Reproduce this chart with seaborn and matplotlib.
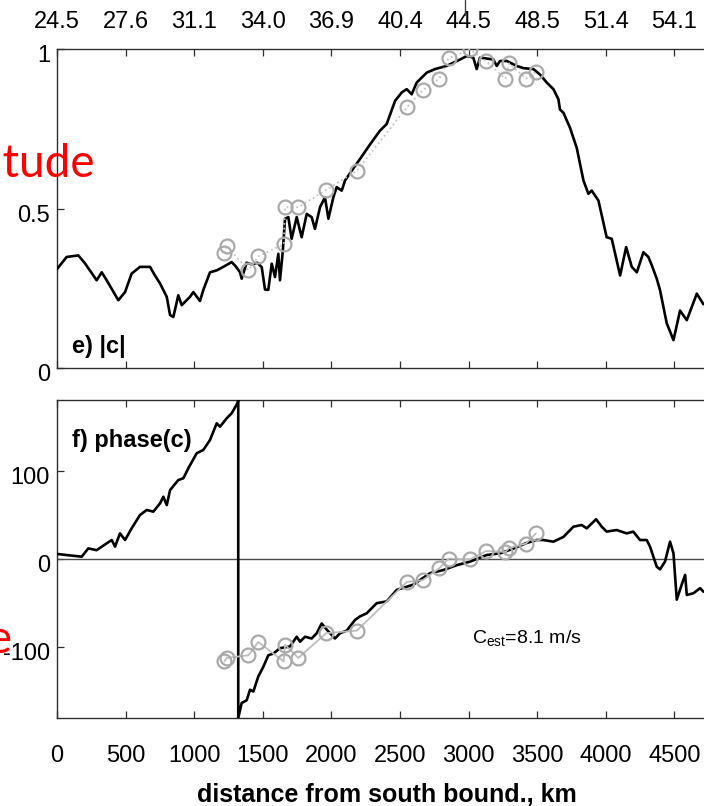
import matplotlib
matplotlib.use("Agg")
import matplotlib.pyplot as plt
import matplotlib.transforms as mtrans
from matplotlib.lines import Line2D
import seaborn as sns

# ---------------- data ----------------
# distance axis ticks / latitude labels on top
dist_ticks = [0, 500, 1000, 1500, 2000, 2500, 3000, 3500, 4000, 4500]
lat_labels = ["24.5", "27.6", "31.1", "34.0", "36.9", "40.4", "44.5", "48.5", "51.4", "54.1"]

# |c| black curve
amp_km = [0, 70, 155, 204, 289, 326, 362, 447, 496, 544, 605, 678, 714, 751, 800, 824, 848,
          884, 909, 969, 994, 1042, 1066, 1115, 1164, 1212, 1273, 1300, 1334, 1346, 1382, 1420,
          1460, 1492, 1516, 1540, 1565, 1589, 1613, 1625, 1645, 1662, 1686, 1710, 1747, 1783,
          1820, 1856, 1880, 1917, 1953, 1978, 2014, 2038, 2075, 2099, 2150, 2208, 2280, 2354,
          2403, 2464, 2513, 2549, 2585, 2622, 2695, 2755, 2840, 2937, 2986, 3034, 3059, 3083,
          3180, 3205, 3229, 3278, 3350, 3399, 3472, 3520, 3569, 3618, 3654, 3666, 3691, 3739,
          3788, 3837, 3873, 3897, 3946, 4006, 4043, 4104, 4148, 4189, 4226, 4274, 4310, 4335,
          4371, 4395, 4444, 4493, 4541, 4590, 4663, 4711, 4760]
amp_val = [0.31, 0.348, 0.353, 0.328, 0.275, 0.30, 0.275, 0.2125, 0.238, 0.296, 0.317, 0.317,
           0.29, 0.265, 0.223, 0.166, 0.16, 0.228, 0.197, 0.223, 0.238, 0.21, 0.244, 0.30, 0.306,
           0.317, 0.332, 0.32, 0.30, 0.28, 0.33, 0.325, 0.33, 0.316, 0.246, 0.245, 0.327, 0.285,
           0.358, 0.275, 0.363, 0.468, 0.473, 0.405, 0.473, 0.41, 0.483, 0.473, 0.436, 0.504,
           0.535, 0.468, 0.535, 0.567, 0.556, 0.5875, 0.62, 0.655, 0.70, 0.744, 0.765, 0.8375,
           0.864, 0.874, 0.858, 0.895, 0.926, 0.937, 0.947, 0.967, 0.978, 0.973, 0.937, 0.973,
           0.967, 0.947, 0.9625, 0.9625, 0.947, 0.94, 0.937, 0.92, 0.895, 0.874, 0.843, 0.81,
           0.80, 0.753, 0.69, 0.5875, 0.546, 0.556, 0.525, 0.41, 0.405, 0.29, 0.379, 0.317, 0.30,
           0.363, 0.348, 0.322, 0.28, 0.244, 0.14, 0.0875, 0.18, 0.15, 0.233, 0.20, 0.21]

# phase(c) black curve (wraps from +180 to -180 near 1321 km)
ph_km = [0, 180, 228, 289, 362, 399, 423, 459, 496, 544, 605, 654, 702, 751, 775, 800, 824,
         884, 921, 957, 1018, 1066, 1115, 1164, 1188, 1237, 1273, 1314, 1321, 1321, 1346, 1382,
         1407, 1431, 1467, 1504, 1540, 1577, 1625, 1698, 1747, 1771, 1808, 1856, 1893, 1929,
         1966, 2026, 2063, 2112, 2172, 2208, 2257, 2330, 2403, 2476, 2597, 2719, 2816, 2913,
         3010, 3131, 3229, 3330, 3420, 3496, 3545, 3618, 3691, 3764, 3824, 3861, 3929, 3970,
         4006, 4079, 4152, 4200, 4249, 4298, 4322, 4371, 4395, 4431, 4468, 4493, 4517, 4553,
         4578, 4590, 4638, 4687, 4711, 4760]
ph_val = [5.7, 2.6, 12, 10, 17.7, 21.5, 14, 29, 21.5, 34.7, 49.8, 55.5, 53.6, 63, 70.5, 61, 78,
          89.4, 91.4, 102.7, 119.7, 123.4, 134.7, 153.6, 149.8, 159.3, 165, 176, 180, -180, -163,
          -160, -148, -150, -133, -122, -109, -107, -101, -99, -88, -93.6, -88, -90, -84, -73,
          -80, -90, -84, -81, -69, -65, -61.5, -50, -48, -35, -29, -16, -12.5, -7, -3, 4.5, 6.4,
          12, 18, 21.5, 21.5, 19.6, 25, 36.6, 38.5, 34.7, 45, 36.6, 31, 32.8, 29, 31, 21.5, 21.5,
          14, -8.7, -11.7, -3, 19.6, 6.4, -46, -29, -18, -40.7, -38.8, -33, -37, -35]

# observation circles
obs_km = [1220, 1237, 1395, 1467, 1652, 1662, 1759, 1961, 2187, 2549, 2665, 2786, 2855, 3010,
          3127, 3268, 3295, 3418, 3490]
obs_amp = [0.36, 0.383, 0.306, 0.35, 0.388, 0.504, 0.504, 0.558, 0.619, 0.817, 0.871, 0.907,
           0.971, 0.999, 0.962, 0.907, 0.955, 0.907, 0.929]
obs_ph = [-116, -112, -109, -94, -116, -97, -112, -84, -81, -26, -24, -10.5, 0.5, -0.5, 9, 8,
          12.5, 17.5, 29]

amp_yticks = [0, 0.5, 1]
amp_ylabels = ["0", "0.5", "1"]
ph_yticks = [-100, 0, 100]
ph_ylabels = ["-100", "0", "100"]

# ---------------- style ----------------
sns.set_style("ticks")
plt.rcParams["font.family"] = ["Liberation Sans", "DejaVu Sans"]
plt.rcParams["text.color"] = "black"
plt.rcParams["mathtext.fontset"] = "custom"
plt.rcParams["mathtext.rm"] = "Liberation Sans"
plt.rcParams["mathtext.it"] = "Liberation Sans:italic"
plt.rcParams["mathtext.bf"] = "Liberation Sans:bold"

W, H = 704, 806
fig = plt.figure(figsize=(W / 100, H / 100), dpi=100)
fig.patch.set_facecolor("white")


def fx(px):
    return px / W


def fy(py):
    return 1 - py / H


x0 = 57
xw = 658.6
ax1 = fig.add_axes([fx(x0), fy(368), xw / W, 319 / H])
ax2 = fig.add_axes([fx(x0), fy(718), xw / W, 318 / H])

spine_col = "#2e2e2e"
tick_fs = 17
circ_edge = "#a9a9a9"

# ---- top panel ----
sns.lineplot(x=amp_km, y=amp_val, ax=ax1, color="black", linewidth=1.9,
             sort=False, estimator=None, zorder=3)
sns.lineplot(x=obs_km, y=obs_amp, ax=ax1, color="#c4c4c4", linewidth=1.3, linestyle=":",
             sort=False, estimator=None, zorder=4,
             marker="o", markersize=10, markerfacecolor="none",
             markeredgecolor=circ_edge, markeredgewidth=1.6)
ax1.set_xlim(0, 4800)
ax1.set_ylim(0, 1)
ax1.set_xticks(dist_ticks)
ax1.set_xticklabels(lat_labels)
ax1.set_yticks(amp_yticks)
ax1.set_yticklabels(amp_ylabels)
ax1.tick_params(axis="x", which="both", direction="in", top=True, bottom=True,
                labeltop=True, labelbottom=False, length=5, width=0.9,
                color=spine_col, labelcolor="black", labelsize=tick_fs, pad=11.5)
ax1.tick_params(axis="y", direction="in", left=True, right=False, length=5, width=0.9,
                color=spine_col, labelcolor="black", labelsize=tick_fs, pad=5)
ax1.text(0.0228, 0.047, "e) |c|", transform=ax1.transAxes, fontsize=17,
         fontweight="bold", ha="left", va="baseline", color="black")

# ---- bottom panel ----
ax2.axhline(0, color="#4a4a4a", linewidth=1.0, zorder=2)
sns.lineplot(x=ph_km, y=ph_val, ax=ax2, color="black", linewidth=1.9,
             sort=False, estimator=None, zorder=3)
sns.lineplot(x=obs_km, y=obs_ph, ax=ax2, color="#bdbdbd", linewidth=1.3,
             sort=False, estimator=None, zorder=4,
             marker="o", markersize=10, markerfacecolor="none",
             markeredgecolor=circ_edge, markeredgewidth=1.6)
ax2.set_xlim(0, 4800)
ax2.set_ylim(-180, 180)
ax2.set_xticks(dist_ticks)
ax2.set_xticklabels([str(v) for v in dist_ticks])
ax2.set_yticks(ph_yticks)
ax2.set_yticklabels(ph_ylabels)
ax2.tick_params(axis="x", direction="in", top=True, bottom=True, labeltop=False,
                labelbottom=True, length=5, width=0.9, color=spine_col,
                labelcolor="black", labelsize=tick_fs, pad=19.5)
ax2.tick_params(axis="y", direction="in", left=True, right=False, length=5, width=0.9,
                color=spine_col, labelcolor="black", labelsize=tick_fs, pad=5)
ax2.text(0.0228, 0.852, "f) phase(c)", transform=ax2.transAxes, fontsize=17,
         fontweight="bold", ha="left", va="baseline", color="black")
ax2.text(3025, -95, r"C$_{\mathrm{est}}$=8.1 m/s", fontsize=14, ha="left", va="baseline",
         color="black")

ax2.set_xlabel("distance from south bound., km", fontsize=18, fontweight="bold",
               color="black")
ax2.xaxis.set_label_coords((386.5 - x0) / xw, (718 - 802) / 318)
ax2.xaxis.label.set_va("baseline")

for ax in (ax1, ax2):
    ax.set_ylabel("")
    for s in ax.spines.values():
        s.set_color(spine_col)
        s.set_linewidth(1.0)
    # MATLAB-like: y tick labels sit slightly below their ticks
    off = mtrans.ScaledTranslation(0, -0.045, fig.dpi_scale_trans)
    for lbl in ax.get_yticklabels():
        lbl.set_transform(lbl.get_transform() + off)

# red side titles (cropped at the left figure edge)
fig.text(fx(95), fy(176.7), "Amplitude", ha="right", va="baseline", color="red",
         fontsize=33, family="Lato")
fig.text(fx(12.5), fy(653), "Phase", ha="right", va="baseline", color="red",
         fontsize=33, family="Lato", zorder=10)

# small remnant mark at the top edge of the crop
fig.add_artist(Line2D([fx(465), fx(465)], [fy(0), fy(15)], color="#444444", linewidth=1.0))

fig.savefig("out.png", dpi=100)
